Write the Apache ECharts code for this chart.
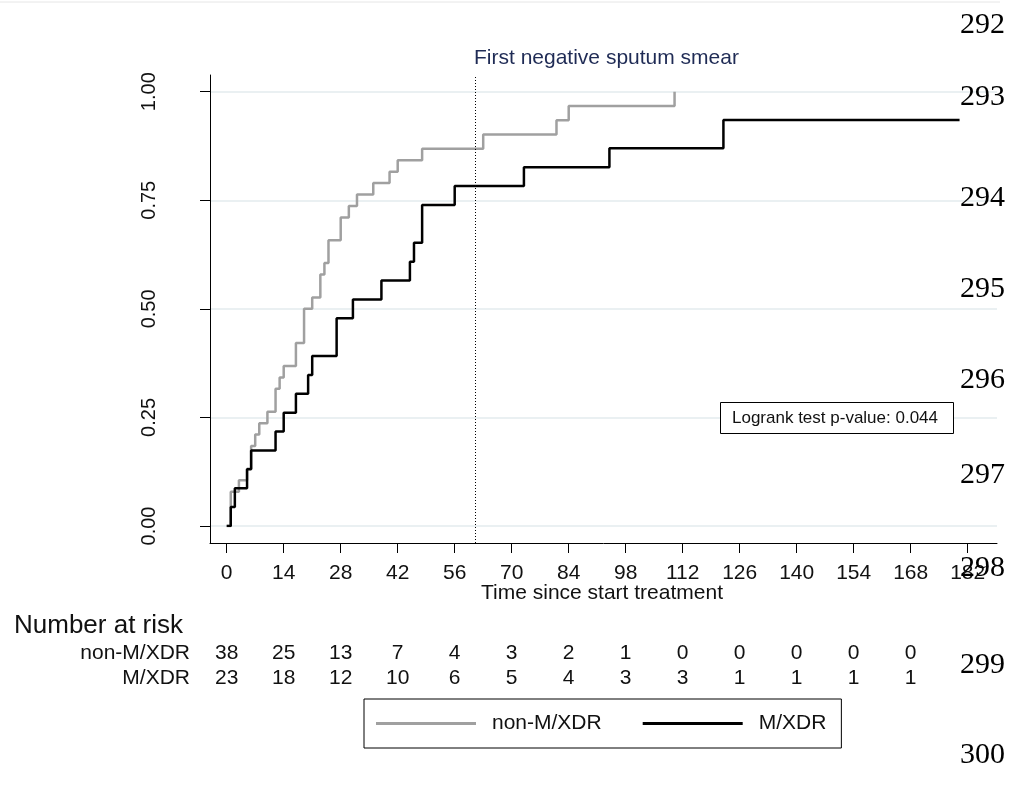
<!DOCTYPE html>
<html>
<head>
<meta charset="utf-8">
<script src="https://cdn.jsdelivr.net/npm/echarts@6/dist/echarts.min.js"></script>
<style>
html, body { margin: 0; padding: 0; background: #fff; }
#chart { width: 1016px; height: 787px; }
</style>
</head>
<body>
<div id="chart"></div>
<script>
// cumulative proportion with first negative smear
const nonMDays = [0, 1, 3, 5, 6, 7, 8, 10, 12, 13, 14, 17, 19, 21, 23, 24, 25, 28, 30, 32, 36, 40, 42, 48, 63, 81, 84, 110];
const nonMValues = [0, 0.0789, 0.1053, 0.1316, 0.1842, 0.2105, 0.2368, 0.2632, 0.3158, 0.3421, 0.3684, 0.4211, 0.5, 0.5263, 0.5789, 0.6053, 0.6579, 0.7105, 0.7368, 0.7632, 0.7895, 0.8158, 0.8421, 0.8684, 0.9013, 0.9342, 0.9671, 1];
const mxdrDays = [0, 1, 2, 5, 6, 12, 14, 17, 20, 21, 27, 31, 38, 45, 46, 48, 56, 73, 94, 122, 180];
const mxdrValues = [0, 0.0435, 0.087, 0.1304, 0.1739, 0.2174, 0.2609, 0.3043, 0.3478, 0.3913, 0.4783, 0.5217, 0.5652, 0.6087, 0.6522, 0.7391, 0.7826, 0.8261, 0.8696, 0.9348, 0.9348];

const riskTimes = [0, 14, 28, 42, 56, 70, 84, 98, 112, 126, 140, 154, 168];
const riskNonM = [38, 25, 13, 7, 4, 3, 2, 1, 0, 0, 0, 0, 0];
const riskMXDR = [23, 18, 12, 10, 6, 5, 4, 3, 3, 1, 1, 1, 1];
const groupNames = ['non-M/XDR', 'M/XDR'];

const smearDay = 61;
const pValue = '0.044';
const lineNumbers = ['292', '293', '294', '295', '296', '297', '298', '299', '300'];
const lineNumberY = [25, 97, 198, 289, 380, 475, 568, 665, 755];

const font = "'Liberation Sans', Arial, sans-serif";
const serif = "'Liberation Serif', 'Times New Roman', serif";

const toPairs = (xs, ys) => xs.map((x, i) => [x, ys[i]]);

const chart = echarts.init(document.getElementById('chart'), null, { renderer: 'canvas' });

chart.setOption({
    animation: false,
    backgroundColor: '#fff',
    grid: [
        // data area: day 0..182, proportion 0..1
        { left: 226.7, right: 48.3, top: 91.7, bottom: 261, outerBoundsMode: 'none' },
        // horizontal gridlines + y ticks across the full plot width
        { left: 210, right: 19, top: 91.7, bottom: 261, outerBoundsMode: 'none' },
        // outer frame (axis lines) and reference line
        { left: 210, right: 19, top: 75, bottom: 244, outerBoundsMode: 'none' }
    ],
    xAxis: [
        {
            gridIndex: 0, type: 'value', min: 0, max: 182, interval: 14, offset: 17,
            axisLine: { show: false, onZero: false },
            axisTick: { show: true, length: 10, lineStyle: { color: '#000', width: 1 } },
            axisLabel: { margin: 20, fontSize: 21, color: '#111', fontFamily: font },
            splitLine: { show: false }
        },
        { gridIndex: 1, type: 'value', min: 0, max: 1, show: false },
        {
            gridIndex: 2, type: 'value', min: -4.1, max: 189.2,
            axisLine: { show: true, onZero: false, lineStyle: { color: '#000', width: 1 } },
            axisTick: { show: false }, axisLabel: { show: false }, splitLine: { show: false }
        }
    ],
    yAxis: [
        { gridIndex: 0, type: 'value', min: 0, max: 1, show: false },
        {
            gridIndex: 1, type: 'value', min: 0, max: 1, interval: 0.25,
            axisLine: { show: false, onZero: false },
            axisTick: { show: true, length: 10, lineStyle: { color: '#000', width: 1 } },
            axisLabel: {
                rotate: 90, margin: 51, fontSize: 20, color: '#111', fontFamily: font,
                formatter: v => v.toFixed(2)
            },
            splitLine: { show: true, lineStyle: { color: '#e3ebee', width: 1.5 } }
        },
        {
            gridIndex: 2, type: 'value', min: -0.0391, max: 1.0385,
            axisLine: { show: true, onZero: false, lineStyle: { color: '#000', width: 1 } },
            axisTick: { show: false }, axisLabel: { show: false }, splitLine: { show: false }
        }
    ],
    legend: {
        data: groupNames,
        left: 364, top: 699,
        orient: 'horizontal',
        icon: 'rect', itemWidth: 100, itemHeight: 3, itemGap: 41,
        padding: [12, 15, 12, 12],
        borderColor: '#000', borderWidth: 1, borderRadius: 0,
        backgroundColor: '#fff',
        textStyle: { fontSize: 21, color: '#111', fontFamily: font, lineHeight: 25, padding: [0, 0, 0, 11] }
    },
    series: [
        {
            name: groupNames[0], type: 'line', step: 'end',
            xAxisIndex: 0, yAxisIndex: 0,
            data: toPairs(nonMDays, nonMValues),
            symbol: 'none', color: '#a0a0a0',
            lineStyle: { color: '#a0a0a0', width: 2.5 }, z: 3
        },
        {
            name: groupNames[1], type: 'line', step: 'end',
            xAxisIndex: 0, yAxisIndex: 0,
            data: toPairs(mxdrDays, mxdrValues),
            symbol: 'none', color: '#000',
            lineStyle: { color: '#000', width: 2.5 }, z: 4
        },
        {
            name: 'smear', type: 'line',
            xAxisIndex: 2, yAxisIndex: 2,
            data: [],
            symbol: 'none',
            markLine: {
                silent: true, symbol: 'none', label: { show: false },
                lineStyle: { color: '#000', width: 1, type: [1, 2] },
                data: [{ xAxis: smearDay }]
            },
            z: 2
        }
    ]
});

// texts around the plot
const graphics = [
    { type: 'line', shape: { x1: 0, y1: 2, x2: 1000, y2: 2 }, style: { stroke: '#e6e6e6', lineWidth: 1 } },
    {
        type: 'text', left: 474, top: 48,
        style: { text: 'First negative sputum smear', font: '21px ' + font, fill: '#1f2b55' }
    },
    {
        type: 'text',
        style: { x: 602, y: 593, text: 'Time since start treatment', font: '21px ' + font, fill: '#111', align: 'center', verticalAlign: 'middle' }
    },
    {
        type: 'text',
        style: { x: 14, y: 626, text: 'Number at risk', font: '26px ' + font, fill: '#111', align: 'left', verticalAlign: 'middle' }
    },
    {
        type: 'text',
        style: { x: 190, y: 653, text: groupNames[0], font: '21px ' + font, fill: '#111', align: 'right', verticalAlign: 'middle' }
    },
    {
        type: 'text',
        style: { x: 190, y: 678, text: groupNames[1], font: '21px ' + font, fill: '#111', align: 'right', verticalAlign: 'middle' }
    },
    {
        type: 'rect', shape: { x: 720.5, y: 402.5, width: 233, height: 31 },
        style: { fill: '#fff', stroke: '#000', lineWidth: 1 }, z: 10
    },
    {
        type: 'text', z: 11,
        style: { x: 835, y: 418, text: 'Logrank test p-value: ' + pValue, font: '17px ' + font, fill: '#111', align: 'center', verticalAlign: 'middle' }
    }
];

riskTimes.forEach((t, i) => {
    const x = chart.convertToPixel({ xAxisIndex: 0 }, t);
    graphics.push({
        type: 'text',
        style: { x: x, y: 653, text: String(riskNonM[i]), font: '21px ' + font, fill: '#111', align: 'center', verticalAlign: 'middle' }
    });
    graphics.push({
        type: 'text',
        style: { x: x, y: 678, text: String(riskMXDR[i]), font: '21px ' + font, fill: '#111', align: 'center', verticalAlign: 'middle' }
    });
});

lineNumbers.forEach((n, i) => {
    graphics.push({
        type: 'text', z: 20,
        style: { x: 960, y: lineNumberY[i], text: n, font: '30px ' + serif, fill: '#000', align: 'left', verticalAlign: 'middle' }
    });
});

chart.setOption({ graphic: graphics });
</script>
</body>
</html>
